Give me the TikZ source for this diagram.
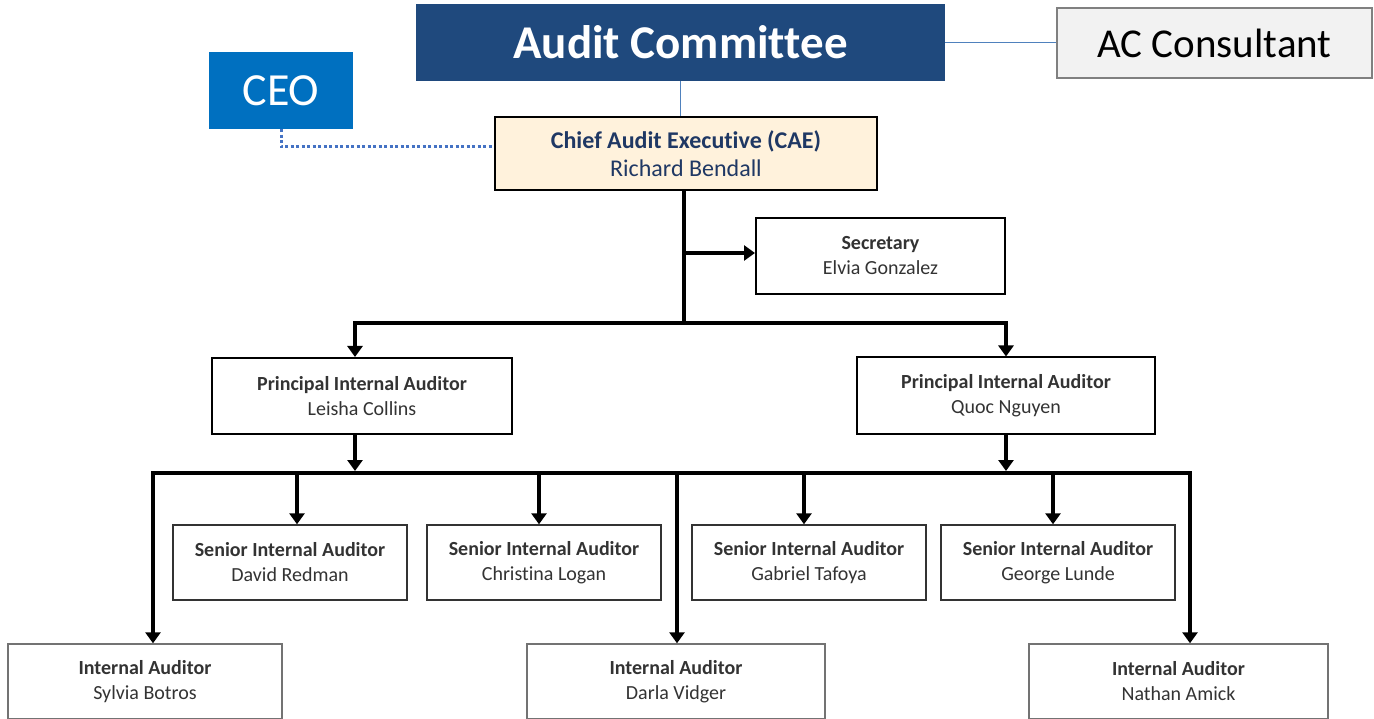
\documentclass[tikz,border=0pt]{standalone}
\usepackage{fontspec}
\setmainfont{Carlito}[Ligatures=NoCommon]
\usetikzlibrary{arrows.meta}

\definecolor{acblue}{RGB}{31,73,125}
\definecolor{ceoblue}{RGB}{0,112,192}
\definecolor{linkblue}{RGB}{79,129,189}
\definecolor{dotblue}{RGB}{68,114,196}
\definecolor{caefill}{RGB}{255,242,220}
\definecolor{caetext}{RGB}{31,56,100}
\definecolor{consfill}{RGB}{242,242,242}

\tikzset{
  post/.style={draw=black, line width=2pt, fill=white, minimum height=76pt,
    text=black!80, font=\fontsize{20}{25}\selectfont},
  seniorbox/.style={post, draw=black!80, line width=1.4pt, minimum width=234pt, minimum height=75pt},
  staffbox/.style={post, draw=black!55, line width=1.4pt, minimum height=75pt},
  feed/.style={line width=4pt, line join=miter, -{Triangle[width=15pt,length=11pt]}}
}

\begin{document}
\begin{tikzpicture}[x=1pt,y=-1pt]
  \useasboundingbox (0,0) rectangle (1374,719);

  \begin{scope}[every node/.style={rectangle, inner sep=0pt, align=center}]
    % top of the chart
    \node[fill=acblue, text=white, minimum width=529pt, minimum height=77pt,
      font=\fontsize{47}{50}\selectfont\bfseries] (ac) at (680.5,42.5) {Audit Committee};
    \node[fill=consfill, draw=black!50, line width=1.2pt, minimum width=315pt, minimum height=70pt,
      font=\fontsize{41}{44}\selectfont] (cons) at (1214.5,43) {AC Consultant};
    \node[fill=ceoblue, text=white, minimum width=144pt, minimum height=77pt,
      font=\fontsize{46}{48}\selectfont] (ceo) at (281,90.5) {CEO};
    \node[fill=caefill, draw=black, line width=2.8pt, text=caetext, minimum width=382pt, minimum height=73pt,
      font=\fontsize{24}{28}\selectfont] (cae) at (686,153.5)
      {\textbf{Chief Audit Executive (CAE)}\\Richard Bendall};

    % second and third rows
    \node[post, minimum width=249pt] (sec) at (880.5,256) {\textbf{Secretary}\\Elvia Gonzalez};
    \node[post, minimum width=300pt] (pia) at (362,396) {\textbf{Principal Internal Auditor}\\Leisha Collins};
    \node[post, minimum width=298pt] (piq) at (1006,395.5) {\textbf{Principal Internal Auditor}\\Quoc Nguyen};

    % senior auditors
    \node[seniorbox] (s1) at (290,562.5) {\textbf{Senior Internal Auditor}\\David Redman};
    \node[seniorbox] (s2) at (544,562.5) {\textbf{Senior Internal Auditor}\\Christina Logan};
    \node[seniorbox] (s3) at (809,562.5) {\textbf{Senior Internal Auditor}\\Gabriel Tafoya};
    \node[seniorbox] (s4) at (1058,562.5) {\textbf{Senior Internal Auditor}\\George Lunde};

    % internal auditors
    \node[staffbox, minimum width=274pt] (i1) at (145,681.5) {\textbf{Internal Auditor}\\Sylvia Botros};
    \node[staffbox, minimum width=298pt] (i2) at (676,681.5) {\textbf{Internal Auditor}\\Darla Vidger};
    \node[staffbox, minimum width=299pt] (i3) at (1178.5,681.5) {\textbf{Internal Auditor}\\Nathan Amick};
  \end{scope}

  % thin links at the top
  \begin{scope}[linkblue, line width=1.5pt]
    \draw (ac.south) -- (ac.south |- cae.north);
    \draw (ac.east) -- (ac.east -| cons.west);
  \end{scope}
  \draw[dotblue, line width=3pt, dash pattern=on 3pt off 2.5pt]
    (ceo.south) |- ([yshift=6.5pt]cae.west);

  % junctions of the reporting lines
  \coordinate (c0) at (684,323);
  \coordinate (c1) at (684,253);
  \coordinate (l0) at (355,323);
  \coordinate (r0) at (1006,323);
  \coordinate (l1) at (355,473);
  \coordinate (r1) at (1006,473);
  \coordinate (bl) at (153,473);
  \coordinate (br) at (1190,473);

  \begin{scope}[feed]
    \draw[-] (c0 |- cae.south) -- (c0);
    \draw (c1) -- (sec.west |- c1);
    \draw (c0) -| (l0 |- pia.north);
    \draw (c0) -| (r0 |- piq.north);

    \draw (l1 |- pia.south) -- ([yshift=2pt]l1);
    \draw (r1 |- piq.south) -- ([yshift=2pt]r1);
    \draw[-, line cap=rect] (bl) -- (br);

    \foreach \x/\n in {297/s1, 539/s2, 804/s3, 1053/s4, 153/i1, 677/i2, 1190/i3} {
      \coordinate (d\n) at (\x,473);
      \draw (d\n) -- (d\n |- \n.north);
    }
  \end{scope}

\end{tikzpicture}
\end{document}
